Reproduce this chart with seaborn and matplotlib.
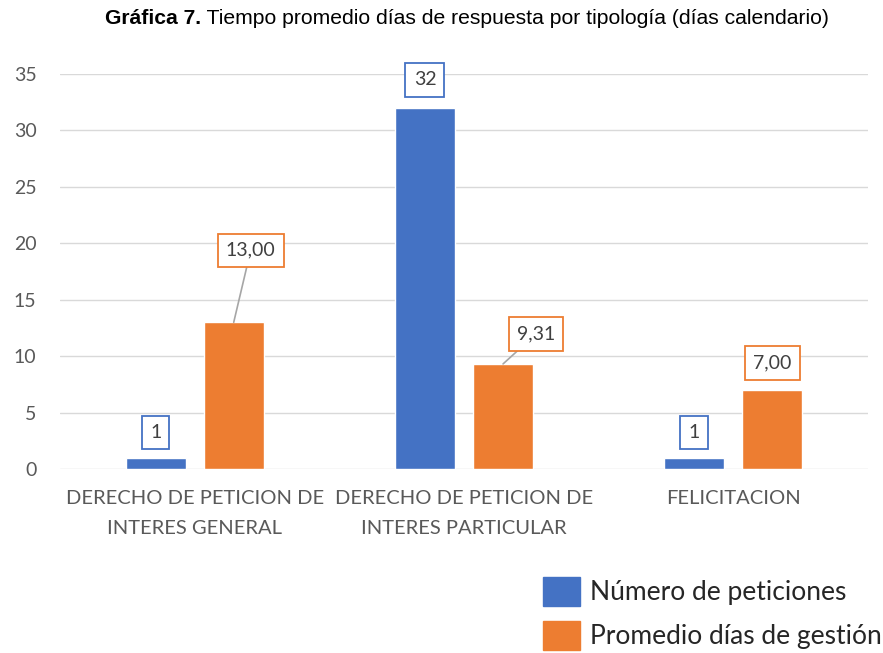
import pandas as pd
import numpy as np
import matplotlib.pyplot as plt
import seaborn as sns
from matplotlib.patches import Patch

categorias = ["DERECHO DE PETICION DE\nINTERES GENERAL",
              "DERECHO DE PETICION DE\nINTERES PARTICULAR",
              "FELICITACION"]
num_peticiones = [1, 32, 1]
promedio_dias = [13.00, 9.31, 7.00]
series = ["Número de peticiones", "Promedio días de gestión"]
yticks = [0, 5, 10, 15, 20, 25, 30, 35]

colores = ["#4472C4", "#ED7D31"]

df = pd.DataFrame({
    "categoria": categorias * 2,
    "serie": [series[0]] * 3 + [series[1]] * 3,
    "valor": num_peticiones + promedio_dias,
})

sns.set_style("white")
plt.rcParams['font.family'] = ['Lato', 'DejaVu Sans']

fig = plt.figure(figsize=(8.83, 6.53), dpi=100)
ax = fig.add_axes([60 / 883, 1 - 469 / 653, 808 / 883, 395 / 653])

sns.barplot(data=df, x="categoria", y="valor", hue="serie", hue_order=series,
            palette=colores, width=0.58, gap=0.23, ax=ax, legend=False,
            saturation=1, errorbar=None)

ax.set_ylim(0, 35)
ax.set_xlim(-0.5, 2.5)
ax.set_yticks(yticks)
ax.grid(axis="y", color="#D9D9D9", linewidth=1)
ax.set_axisbelow(True)
for s in ax.spines.values():
    s.set_visible(False)
ax.set_xlabel("")
ax.set_ylabel("")
ax.tick_params(axis="both", length=0, colors="#595959")
ax.tick_params(axis="x", pad=15, labelsize=14.5)
ax.tick_params(axis="y", pad=17, labelsize=14)
for lbl in ax.get_xticklabels():
    lbl.set_linespacing(1.92)

# etiquetas de datos (desplazamientos en pixeles respecto al tope de la barra)
off_azul = [(0, 25), (0, 28), (0, 25)]
off_naranja = [(17, 72), (33, 30), (0, 27)]

def fmt_int(v):
    return f"{int(v)}"

def fmt_dec(v):
    return f"{v:.2f}".replace(".", ",")

for cont, offs, fmt, col in [(ax.containers[0], off_azul, fmt_int, colores[0]),
                             (ax.containers[1], off_naranja, fmt_dec, colores[1])]:
    for bar, (dx, dy) in zip(cont, offs):
        x = bar.get_x() + bar.get_width() / 2
        h = bar.get_height()
        linea = dict(arrowstyle="-", color="#A6A6A6", lw=1.2, shrinkA=0, shrinkB=0) if dx > 5 else None
        ax.annotate(fmt(h), xy=(x, h), xytext=(dx, dy), textcoords="offset pixels",
                    ha="center", va="center", fontsize=14, color="#404040",
                    bbox=dict(boxstyle="square,pad=0.42", fc="white", ec=col, lw=1.3),
                    arrowprops=linea, annotation_clip=False)

# titulo
t1 = fig.text(105 / 883, 1 - 19 / 653, "Gráfica 7.", fontsize=15.2, fontweight="bold",
              family="Liberation Sans", va="center", ha="left", color="black")
ax.annotate(" Tiempo promedio días de respuesta por tipología (días calendario)",
            xy=(1, 0), xycoords=t1, va="bottom", ha="left", fontsize=15.2,
            family="Liberation Sans", color="black", annotation_clip=False)

handles = [Patch(facecolor=c, edgecolor=c) for c in colores]
fig.legend(handles, series, loc="upper left", bbox_to_anchor=(543 / 883, 1 - 577 / 653),
           frameon=False, borderpad=0, borderaxespad=0, fontsize=19,
           handlelength=1.4, handleheight=1.33, handletextpad=0.38, labelspacing=0.55,
           labelcolor="#262626")

fig.savefig("out.png", dpi=100)
